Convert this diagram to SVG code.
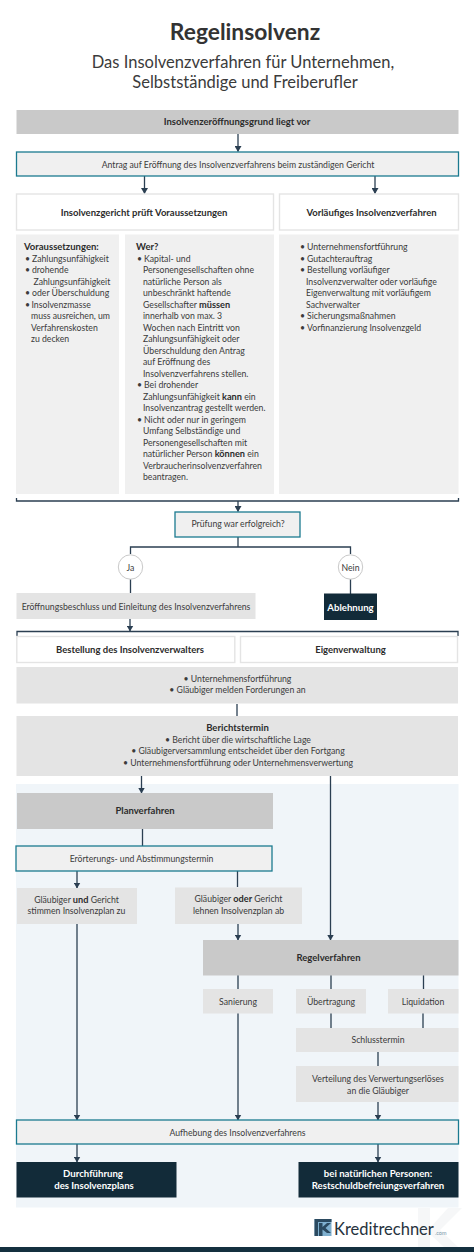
<svg xmlns="http://www.w3.org/2000/svg" width="474" height="1252" viewBox="0 0 474 1252">
<defs>
<marker id="ah" markerUnits="userSpaceOnUse" markerWidth="6" markerHeight="7" refX="5.500" refY="3.500" orient="auto" viewBox="0 0 6 7"><path d="M0 0L6 3.500L0 7Z" fill="#2b3f52"/></marker>
</defs>
<style>
text{font-family:Lato,"Liberation Sans",sans-serif;font-size:8.700px;fill:#3b3b3b}
.c{text-anchor:middle}
text.b{font-size:9.500px}
.b{font-weight:700;fill:#2c2c2c}
tspan.b{font-size:9.200px}
text.w{font-weight:700;fill:#fff;font-size:9.600px}
.g1{fill:#c9c9c9}.g2{fill:#e4e4e4}.g3{fill:#f0f0f0}
.t{fill:#f0f0f0;stroke:#1b7a90;stroke-width:1.300}
.o{fill:#fff;stroke:#e4e4e4;stroke-width:1.400}
.d{fill:#122b39}
.l{fill:none;stroke:#2b3f52;stroke-width:1.300}
.a{marker-end:url(#ah)}
</style>
<rect width="474" height="1252" fill="#fff"/>
<g id="title">
<text class="c" x="245" y="40" style="font-size:22.800px;font-weight:700;fill:#333">Regelinsolvenz</text>
<text class="c" x="243" y="68" style="font-size:16.500px">Das Insolvenzverfahren für Unternehmen,</text>
<text class="c" x="245" y="88" style="font-size:16.500px">Selbstständige und Freiberufler</text>
</g>
<rect x="16" y="784" width="442.500" height="423.500" fill="#f0f5f9"/>
<g id="connectors">
<path class="l a" d="M238 134V151.500"/>
<path class="l a" d="M144.500 176V193.500"/>
<path class="l a" d="M375 176V193.500"/>
<path class="l" d="M16.500 498V501H458.500V498"/>
<path class="l a" d="M238 501V511.500"/>
<path class="l" d="M238 537V547M130.500 554V547H350.500V554"/>
<path class="l" d="M130.500 579V593M350.500 579V594"/>
<path class="l a" d="M130 619V631"/>
<path class="l" d="M17 636V631.500H458V636"/>
<path class="l" d="M237 704V716"/>
<path class="l a" d="M141.500 776V793"/>
<path class="l a" d="M330.500 776V940"/>
<path class="l" d="M142.500 829V846"/>
<path class="l a" d="M77 871V888"/>
<path class="l" d="M237.500 871V887"/>
<path class="l a" d="M238 924V940"/>
<path class="l" d="M238 975V989M331 975V989M423.500 975V989M331 1013V1028M423 1013V1028M378 1052V1066"/>
<path class="l a" d="M77 924V1120"/>
<path class="l a" d="M238 1013V1120"/>
<path class="l a" d="M378 1102V1120"/>
<path class="l a" d="M77 1144V1162"/>
<path class="l a" d="M378 1144V1162"/>
</g>
<g id="n-grund"><rect class="g1" x="16.500" y="110" width="442" height="24"/><text class="c b" x="237" y="125">Insolvenzeröffnungsgrund liegt vor</text></g>
<g id="n-antrag"><rect class="t" x="16.500" y="152" width="442" height="24"/><text class="c" x="238" y="167.500">Antrag auf Eröffnung des Insolvenzverfahrens beim zuständigen Gericht</text></g>
<g id="n-gericht"><rect class="o" x="16.500" y="194" width="257" height="36"/><text class="c b" x="144" y="215.500">Insolvenzgericht prüft Voraussetzungen</text></g>
<g id="n-vorlaeufig"><rect class="o" x="279.500" y="194" width="179" height="36"/><text class="c b" x="371.500" y="215.500">Vorläufiges Insolvenzverfahren</text></g>
<g id="n-voraussetzungen"><rect class="g3" x="16" y="234.500" width="103" height="259.500"/>
<text x="24" y="250" class="b">Voraussetzungen:</text>
<text x="25" y="261.500">•</text><text x="32" y="261.500">Zahlungsunfähigkeit</text>
<text x="25" y="273">•</text><text x="32" y="273">drohende</text>
<text x="33.500" y="284.500">Zahlungsunfähigkeit</text>
<text x="25" y="296">•</text><text x="32" y="296">oder Überschuldung</text>
<text x="25" y="307.500">•</text><text x="31.500" y="307.500">Insolvenzmasse</text>
<text x="31" y="319">muss ausreichen, um</text>
<text x="31" y="330.500">Verfahrenskosten</text>
<text x="31" y="342">zu decken</text></g>
<g id="n-wer"><rect class="g3" x="125" y="234.500" width="149" height="259.500"/>
<text x="136" y="250" class="b">Wer?</text>
<text x="137" y="261.500">•</text><text x="144" y="261.500">Kapital- und</text>
<text x="143" y="273">Personengesellschaften ohne</text>
<text x="143" y="284.500">natürliche Person als</text>
<text x="143" y="296">unbeschränkt haftende</text>
<text x="143" y="307.500">Gesellschafter <tspan class="b">müssen</tspan></text>
<text x="143" y="319">innerhalb von max. 3</text>
<text x="143" y="330.500">Wochen nach Eintritt von</text>
<text x="143" y="342">Zahlungsunfähigkeit oder</text>
<text x="143" y="353.500">Überschuldung den Antrag</text>
<text x="143" y="365">auf Eröffnung des</text>
<text x="143" y="376.500">Insolvenzverfahrens stellen.</text>
<text x="137" y="388">•</text><text x="144" y="388">Bei drohender</text>
<text x="143" y="399.500">Zahlungsunfähigkeit <tspan class="b">kann</tspan> ein</text>
<text x="143" y="411">Insolvenzantrag gestellt werden.</text>
<text x="137" y="422.500">•</text><text x="144" y="422.500">Nicht oder nur in geringem</text>
<text x="143" y="434">Umfang Selbständige und</text>
<text x="143" y="445.500">Personengesellschaften mit</text>
<text x="143" y="457">natürlicher Person <tspan class="b">können</tspan> ein</text>
<text x="143" y="468.500">Verbraucherinsolvenzverfahren</text>
<text x="143" y="480">beantragen.</text></g>
<g id="n-vorlaeufig-liste"><rect class="g3" x="279" y="234.500" width="179.500" height="259.500"/>
<text x="300" y="250">•</text><text x="307" y="250">Unternehmensfortführung</text>
<text x="300" y="261.500">•</text><text x="307" y="261.500">Gutachterauftrag</text>
<text x="300" y="273">•</text><text x="307" y="273">Bestellung vorläufiger</text>
<text x="306" y="284.500">Insolvenzverwalter oder vorläufige</text>
<text x="306" y="296">Eigenverwaltung mit vorläufigem</text>
<text x="306" y="307.500">Sachverwalter</text>
<text x="300" y="319">•</text><text x="307" y="319">Sicherungsmaßnahmen</text>
<text x="300" y="330.500">•</text><text x="307" y="330.500">Vorfinanzierung Insolvenzgeld</text></g>
<g id="n-pruefung"><rect class="t" x="175" y="512" width="125" height="25"/><text class="c" x="238" y="527">Prüfung war erfolgreich?</text></g>
<g id="n-ja"><circle cx="130.500" cy="567" r="12.200" fill="#fff" stroke="#c9c9c9" stroke-width="1"/><text class="c" x="130.500" y="570.500">Ja</text></g>
<g id="n-nein"><circle cx="350.500" cy="567" r="12.200" fill="#fff" stroke="#c9c9c9" stroke-width="1"/><text class="c" x="350.500" y="570.500">Nein</text></g>
<g id="n-eroeffnung"><rect class="g2" x="16.500" y="593" width="239" height="26"/><text class="c" x="136" y="609.500">Eröffnungsbeschluss und Einleitung des Insolvenzverfahrens</text></g>
<g id="n-ablehnung"><rect class="d" x="324" y="593.500" width="53" height="26.500"/><text class="c w" x="350.500" y="611">Ablehnung</text></g>
<g id="n-bestellung"><rect class="o" x="16.800" y="636.500" width="218" height="26"/><text class="c b" x="130" y="653">Bestellung des Insolvenzverwalters</text></g>
<g id="n-eigen"><rect class="o" x="240.500" y="636.500" width="217" height="26"/><text class="c b" x="350.500" y="653">Eigenverwaltung</text></g>
<g id="n-fortfuehrung"><rect class="g2" x="16.500" y="667" width="441.500" height="36.500"/><text class="c" x="237.500" y="681.500">• Unternehmensfortführung</text><text class="c" x="237.500" y="693">• Gläubiger melden Forderungen an</text></g>
<g id="n-bericht"><rect class="g2" x="16.500" y="716" width="441.500" height="60"/><text class="c b" x="237.500" y="731">Berichtstermin</text><text class="c" x="238" y="742.500">• Bericht über die wirtschaftliche Lage</text><text class="c" x="238" y="754">• Gläubigerversammlung entscheidet über den Fortgang</text><text class="c" x="238" y="765.500">• Unternehmensfortführung oder Unternehmensverwertung</text></g>
<g id="n-plan"><rect class="g1" x="17" y="793" width="256" height="36"/><text class="c b" x="145" y="814">Planverfahren</text></g>
<g id="n-eroerterung"><rect class="t" x="16" y="846" width="256" height="25"/><text class="c" x="141.500" y="862">Erörterungs- und Abstimmungstermin</text></g>
<g id="n-und"><rect class="g2" x="17" y="888" width="120" height="36"/><text class="c" x="76.500" y="902.500">Gläubiger <tspan class="b">und</tspan> Gericht</text><text class="c" x="76.500" y="914">stimmen Insolvenzplan zu</text></g>
<g id="n-oder"><rect class="g2" x="175" y="887.500" width="127" height="36.500"/><text class="c" x="238.500" y="902">Gläubiger <tspan class="b">oder</tspan> Gericht</text><text class="c" x="238.500" y="913.500">lehnen Insolvenzplan ab</text></g>
<g id="n-regel"><rect class="g1" x="203" y="940" width="255.500" height="35.500"/><text class="c b" x="328.500" y="960.500">Regelverfahren</text></g>
<g id="n-sanierung"><rect class="g2" x="203" y="989" width="70" height="24.500"/><text class="c" x="238" y="1005">Sanierung</text></g>
<g id="n-uebertragung"><rect class="g2" x="296" y="989" width="70" height="24.500"/><text class="c" x="331" y="1005">Übertragung</text></g>
<g id="n-liquidation"><rect class="g2" x="388" y="989" width="70.500" height="24.500"/><text class="c" x="423" y="1005">Liquidation</text></g>
<g id="n-schluss"><rect class="g2" x="296" y="1028" width="162.500" height="24"/><text class="c" x="378" y="1042.500">Schlusstermin</text></g>
<g id="n-verteilung"><rect class="g2" x="296" y="1066" width="162.500" height="36"/><text class="c" x="378" y="1082">Verteilung des Verwertungserlöses</text><text class="c" x="378" y="1093.500">an die Gläubiger</text></g>
<g id="n-aufhebung"><rect class="t" x="16.500" y="1120" width="442" height="24"/><text class="c" x="237.500" y="1135.500">Aufhebung des Insolvenzverfahrens</text></g>
<g id="n-durchfuehrung"><rect class="d" x="16.500" y="1162" width="160" height="35.500"/><text class="c w" x="93" y="1177">Durchführung</text><text class="c w" x="94" y="1188.500">des Insolvenzplans</text></g>
<g id="n-rsb"><rect class="d" x="298.500" y="1162" width="160" height="35.500"/><text class="c w" x="378" y="1177">bei natürlichen Personen:</text><text class="c w" x="378" y="1188.500">Restschuldbefreiungsverfahren</text></g>
<g id="logo">
<path d="M418 1208H430V1228L448 1208H462L440 1230L458 1247H444L430 1234V1247H418Z" fill="#f6f7f8"/>
<rect x="314.500" y="1219" width="17" height="17" fill="#7fb0cf"/>
<path d="M314.500 1219H331.500V1222H318V1236H314.500Z" fill="#2b4a60"/>
<path d="M319 1223H322.500V1227L327 1223H331L325.500 1228L331 1233H327L322.500 1229.500V1236H319Z" fill="#2b4a60"/>
<text x="334" y="1234.500" style="font-size:16.500px;fill:#26323d">Kreditrechner</text>
<text x="435" y="1234.500" style="font-size:5.500px;fill:#7c99ab">.com</text>
</g>
<rect id="footer-bar" x="0" y="1247" width="474" height="5" fill="#14303f"/>
</svg>
